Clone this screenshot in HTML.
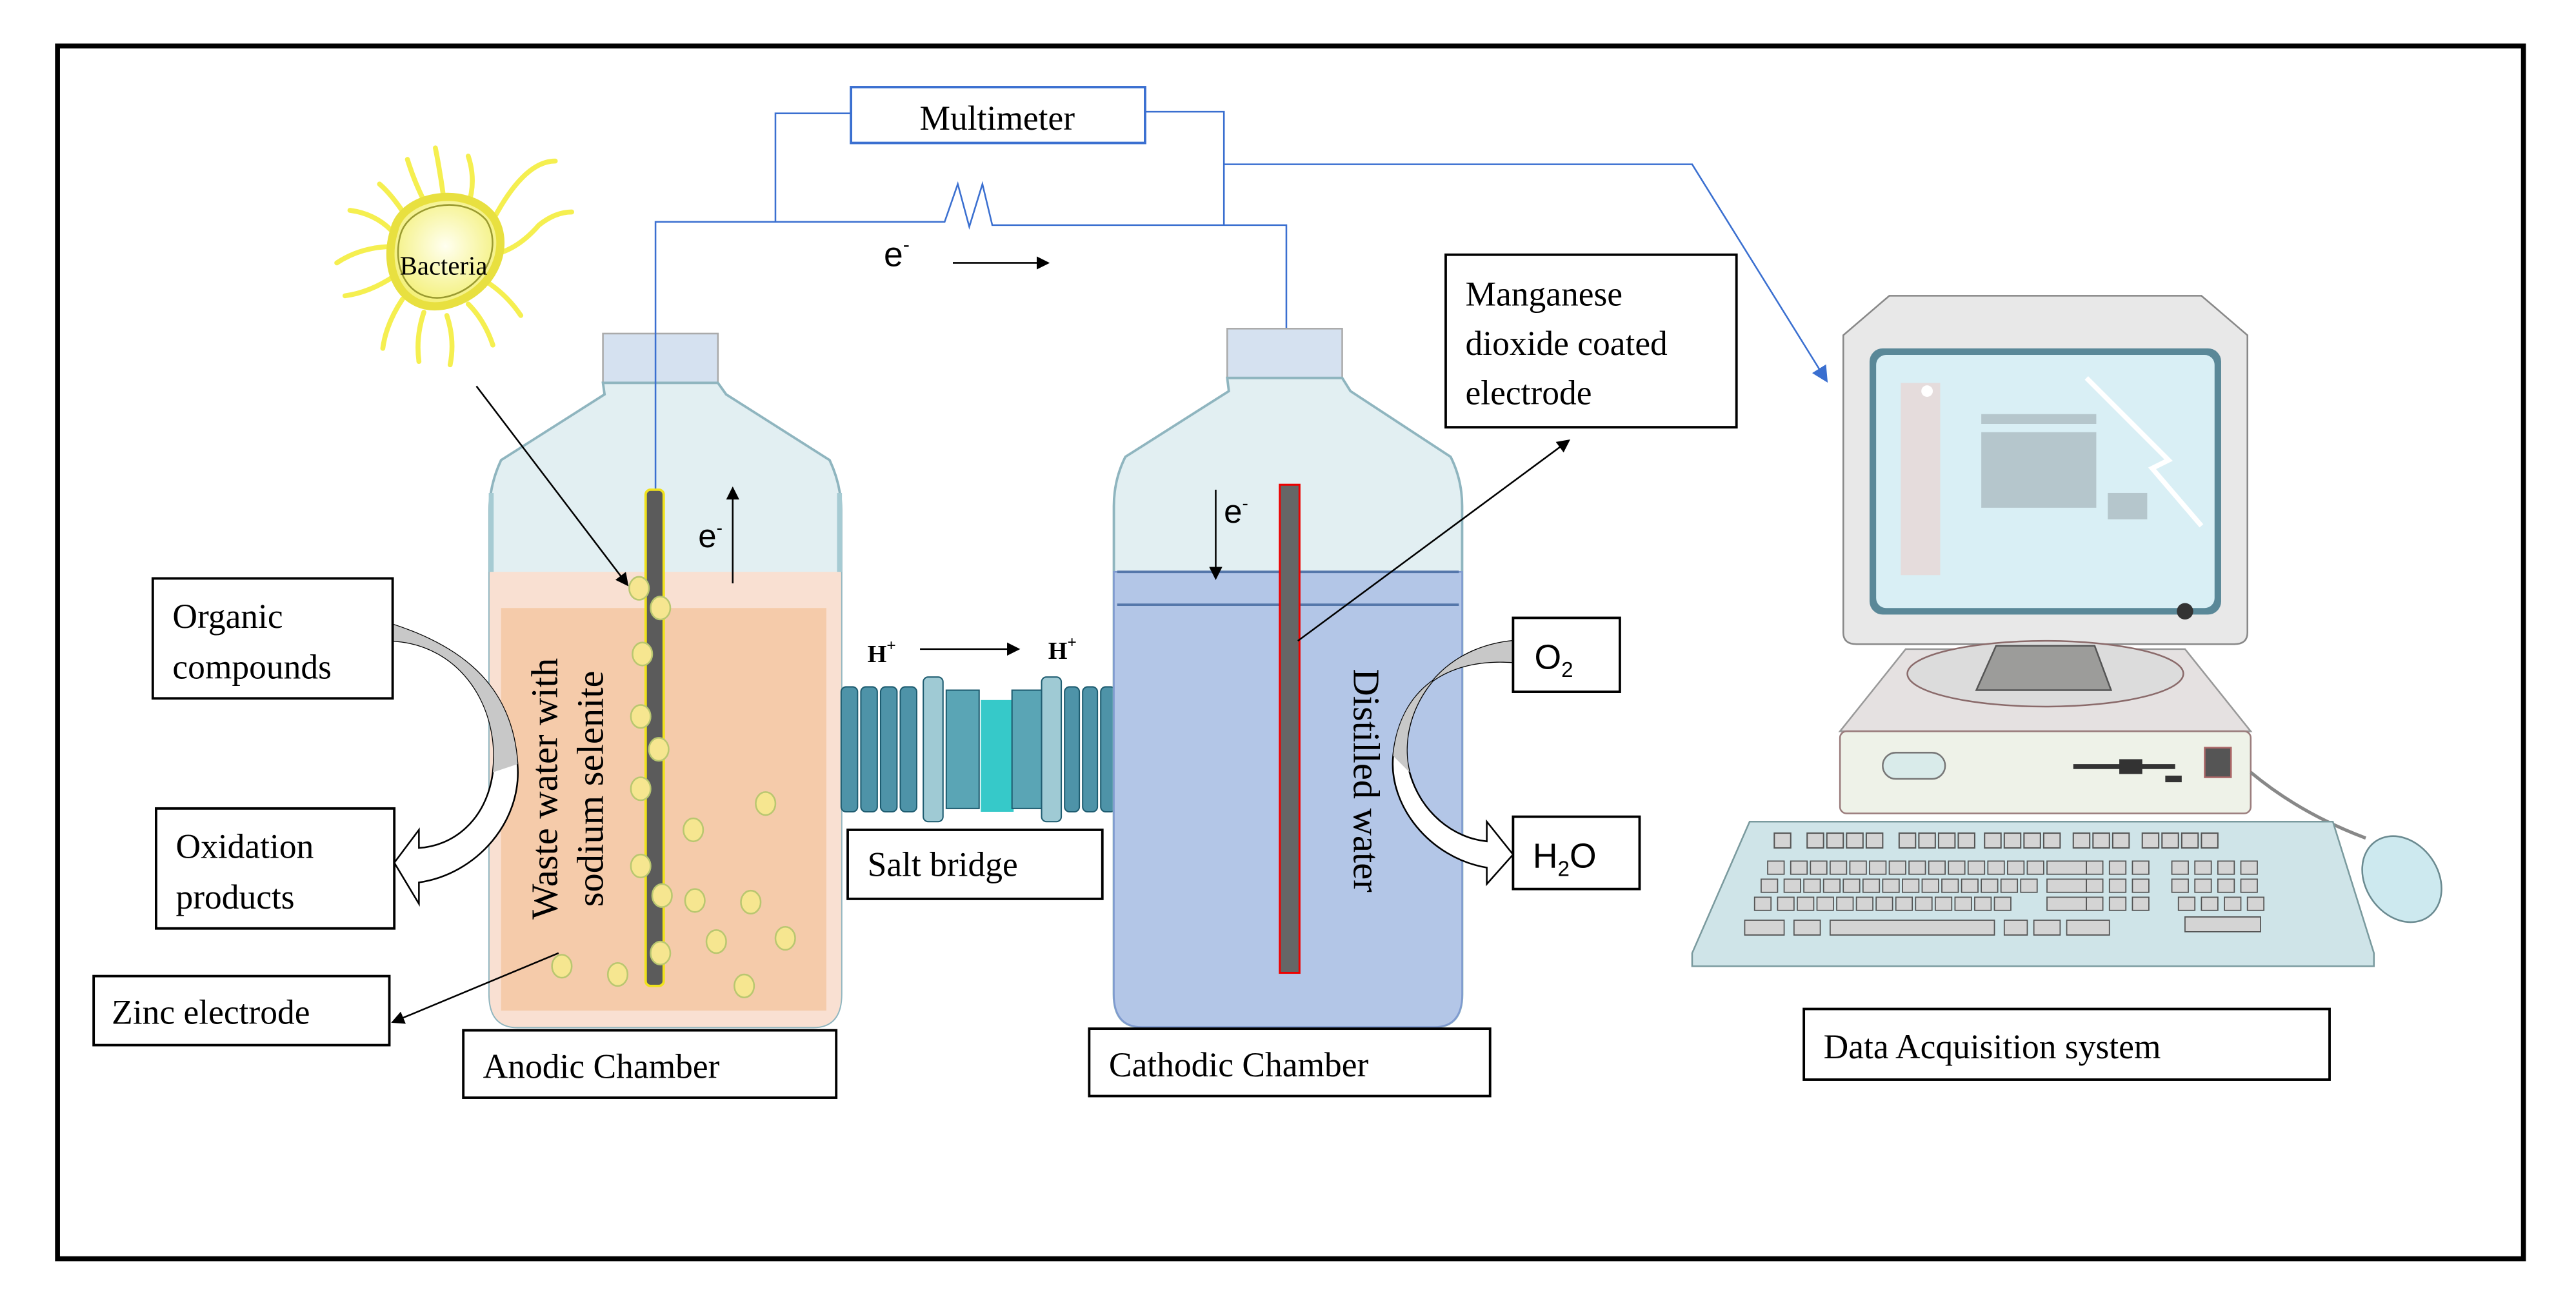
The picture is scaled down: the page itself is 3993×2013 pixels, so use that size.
<!DOCTYPE html>
<html><head><meta charset="utf-8"><style>
html,body{margin:0;padding:0;background:#fff;}
svg{display:block;}
.t{font-family:"Liberation Serif",serif;fill:#000;}
.s{font-family:"Liberation Sans",sans-serif;fill:#000;}
</style></head><body>
<svg width="3993" height="2013" viewBox="0 0 1568 790.5" preserveAspectRatio="none" xmlns="http://www.w3.org/2000/svg">
<defs>
<marker id="ab" markerWidth="8" markerHeight="8" refX="7" refY="4" orient="auto" markerUnits="userSpaceOnUse"><path d="M0,0 L8,4 L0,8 Z" fill="#000"/></marker>
<marker id="abl" markerWidth="10" markerHeight="10" refX="9" refY="5" orient="auto" markerUnits="userSpaceOnUse"><path d="M0,0 L10,5 L0,10 Z" fill="#3a6fd0"/></marker>
<radialGradient id="bg" cx="0.5" cy="0.45" r="0.6"><stop offset="0" stop-color="#fffff0"/><stop offset="1" stop-color="#f2ee6a"/></radialGradient>
</defs>
<rect x="0" y="0" width="1568" height="790.5" fill="#fff"/>
<rect x="35" y="28" width="1501" height="738" fill="none" stroke="#000" stroke-width="3"/>

<!-- bacteria -->
<g stroke="#f5ef50" stroke-width="3" fill="none" stroke-linecap="round">
<path d="M238,140 q-10,-10 -25,-12"/><path d="M240,150 q-20,0 -35,10"/><path d="M240,168 q-15,10 -30,12"/><path d="M245,182 q-10,15 -12,30"/>
<path d="M258,190 q-5,15 -3,30"/><path d="M272,192 q5,15 2,30"/><path d="M285,185 q10,10 15,25"/><path d="M297,172 q12,8 20,20"/>
<path d="M300,155 q15,-3 28,-18 q10,-8 20,-8"/><path d="M298,138 q10,-20 20,-30 q10,-10 20,-10"/><path d="M285,125 q5,-15 0,-30"/>
<path d="M270,120 q-2,-15 -5,-30"/><path d="M258,122 q-6,-12 -10,-25"/><path d="M246,130 q-8,-12 -15,-18"/>
</g>
<path d="M240,140 C245,118 285,112 300,132 C312,150 300,180 270,186 C245,190 232,165 240,140 Z" fill="url(#bg)" stroke="#e8e040" stroke-width="5"/>
<path d="M244,142 C250,124 282,118 296,134 C306,150 296,176 270,181 C248,184 238,162 244,142 Z" fill="none" stroke="#9a9a30" stroke-width="1"/>
<text x="270" y="167" class="t" font-size="16" text-anchor="middle">Bacteria</text>

<!-- anodic bottle -->
<rect x="367" y="203" width="70" height="30" fill="#d5e1f0" stroke="#aaa"/>
<path d="M367,233 L437,233 L442,240 L505,280 Q512,295 512,310 L512,605 Q512,625 495,625 L315,625 Q298,625 298,605 L298,310 Q298,295 305,280 L368,240 Z" fill="#e2eff2" stroke="#8fb5bf" stroke-width="1.5"/>
<path d="M298,348 L512,348 L512,605 Q512,625 495,625 L315,625 Q298,625 298,605 Z" fill="#f9e0d2"/>
<rect x="305" y="370" width="198" height="245" fill="#f5cbaa"/>
<path d="M299,300 L299,348 M511,300 L511,348" stroke="#a6cbd3" stroke-width="3"/>

<!-- circuit -->
<g stroke="#3a6fd0" stroke-width="1" fill="none">
<rect x="518" y="53" width="179" height="34" stroke-width="1.5"/>
<polyline points="518,69 472,69 472,135"/>
<polyline points="399,300 399,135 575,135 583,112 590,138 598,112 604,137 783,137 783,295"/>
<polyline points="697,68 745,68 745,137"/>
<polyline points="745,100 1030,100 1112,232" marker-end="url(#abl)"/>
</g>
<text x="607" y="79" class="t" font-size="21" text-anchor="middle">Multimeter</text>
<text x="538" y="162" class="s" font-size="21">e<tspan font-size="12" dy="-9">-</tspan></text>
<line x1="580" y1="160" x2="638" y2="160" stroke="#000" stroke-width="1" marker-end="url(#ab)"/>

<rect x="393" y="298" width="11" height="302" rx="3" fill="#5b5b5b" stroke="#f0e21c" stroke-width="1.5"/>
<g fill="#f6e690" stroke="#b9c770" stroke-width="1">
<ellipse cx="389" cy="358" rx="6" ry="7"/><ellipse cx="402" cy="370" rx="6" ry="7"/><ellipse cx="391" cy="398" rx="6" ry="7"/>
<ellipse cx="390" cy="436" rx="6" ry="7"/><ellipse cx="401" cy="456" rx="6" ry="7"/><ellipse cx="390" cy="480" rx="6" ry="7"/>
<ellipse cx="466" cy="489" rx="6" ry="7"/><ellipse cx="422" cy="505" rx="6" ry="7"/><ellipse cx="390" cy="527" rx="6" ry="7"/>
<ellipse cx="403" cy="545" rx="6" ry="7"/><ellipse cx="423" cy="548" rx="6" ry="7"/><ellipse cx="457" cy="549" rx="6" ry="7"/>
<ellipse cx="436" cy="573" rx="6" ry="7"/><ellipse cx="478" cy="571" rx="6" ry="7"/><ellipse cx="402" cy="580" rx="6" ry="7"/>
<ellipse cx="342" cy="588" rx="6" ry="7"/><ellipse cx="376" cy="593" rx="6" ry="7"/><ellipse cx="453" cy="600" rx="6" ry="7"/>
</g>
<line x1="290" y1="235" x2="382" y2="356" stroke="#000" stroke-width="1" marker-end="url(#ab)"/>
<text x="425" y="333" class="s" font-size="20">e<tspan font-size="11" dy="-8">-</tspan></text>
<line x1="446" y1="355" x2="446" y2="297" stroke="#000" stroke-width="1" marker-end="url(#ab)"/>
<text transform="translate(339,480) rotate(-90)" class="t" font-size="23" text-anchor="middle">Waste water with</text>
<text transform="translate(367,480) rotate(-90)" class="t" font-size="23" text-anchor="middle">sodium selenite</text>
<line x1="340" y1="580" x2="239" y2="622" stroke="#000" stroke-width="1" marker-end="url(#ab)"/>

<!-- salt bridge -->
<rect x="597" y="426" width="20" height="68" fill="#36c9c9"/>
<g fill="#4e93a8" stroke="#1e5c70" stroke-width="0.8">
<rect x="512" y="418" width="10" height="76" rx="3"/><rect x="524" y="418" width="10" height="76" rx="3"/><rect x="536" y="418" width="10" height="76" rx="3"/><rect x="548" y="418" width="10" height="76" rx="3"/>
<rect x="562" y="412" width="12" height="88" rx="3" fill="#9fcad4"/><rect x="576" y="420" width="20" height="72" fill="#5aa5b5"/>
<rect x="616" y="420" width="20" height="72" fill="#5aa5b5"/><rect x="634" y="412" width="12" height="88" rx="3" fill="#9fcad4"/>
<rect x="648" y="418" width="9" height="76" rx="3"/><rect x="659" y="418" width="9" height="76" rx="3"/><rect x="670" y="418" width="9" height="76" rx="3"/>
</g>
<text x="528" y="403" class="t" font-size="15" font-weight="bold">H<tspan font-size="10" dy="-7">+</tspan></text>
<text x="638" y="401" class="t" font-size="15" font-weight="bold">H<tspan font-size="10" dy="-7">+</tspan></text>
<line x1="560" y1="395" x2="620" y2="395" stroke="#000" stroke-width="1" marker-end="url(#ab)"/>
<rect x="516" y="505" width="155" height="42" fill="#fff" stroke="#000" stroke-width="1.5"/>
<text x="528" y="533" class="t" font-size="21">Salt bridge</text>

<!-- cathodic bottle -->
<rect x="747" y="200" width="70" height="30" fill="#d5e1f0" stroke="#aaa"/>
<path d="M747,230 L817,230 L822,238 L883,278 Q890,292 890,308 L890,605 Q890,625 873,625 L695,625 Q678,625 678,605 L678,308 Q678,292 685,278 L748,238 Z" fill="#e2eff2" stroke="#8fb5bf" stroke-width="1.5"/>
<path d="M678,348 L890,348 L890,605 Q890,625 873,625 L695,625 Q678,625 678,605 Z" fill="#b3c6e7" stroke="#7f9ad0"/>
<line x1="680" y1="368" x2="888" y2="368" stroke="#5577aa" stroke-width="1.5"/>
<line x1="680" y1="348" x2="888" y2="348" stroke="#5577aa" stroke-width="1.5"/>
<rect x="779" y="295" width="12" height="297" fill="#666" stroke="#e00" stroke-width="1.2"/>
<text x="745" y="318" class="s" font-size="20">e<tspan font-size="11" dy="-8">-</tspan></text>
<line x1="740" y1="298" x2="740" y2="352" stroke="#000" stroke-width="1" marker-end="url(#ab)"/>
<text transform="translate(824,475) rotate(90)" class="t" font-size="23" text-anchor="middle">Distilled water</text>
<line x1="790" y1="390" x2="955" y2="268" stroke="#000" stroke-width="1" marker-end="url(#ab)"/>
<rect x="880" y="155" width="177" height="105" fill="#fff" stroke="#000" stroke-width="1.5"/>
<text x="892" y="186" class="t" font-size="21">Manganese</text>
<text x="892" y="216" class="t" font-size="21">dioxide coated</text>
<text x="892" y="246" class="t" font-size="21">electrode</text>

<!-- right curved arrow -->
<path d="M921,390 C870,395 850,440 858,470 C865,495 885,510 905,512 L905,500 L921,520 L905,538 L905,528 C870,522 845,490 848,460 C852,420 880,400 921,403 Z" fill="#fff" stroke="#000"/>
<path d="M921,390 C870,395 850,440 858,470 L848,460 C852,420 880,400 921,403 Z" fill="#c8c8c8"/>
<rect x="921" y="376" width="65" height="45" fill="#fff" stroke="#000" stroke-width="1.5"/>
<text x="934" y="407" class="s" font-size="21">O<tspan font-size="13" dy="5">2</tspan></text>
<rect x="921" y="497" width="77" height="44" fill="#fff" stroke="#000" stroke-width="1.5"/>
<text x="933" y="528" class="s" font-size="21">H<tspan font-size="13" dy="5">2</tspan><tspan dy="-5">O</tspan></text>

<!-- left curved arrow -->
<path d="M239,390 C280,392 305,430 300,470 C296,500 275,515 255,516 L255,505 L240,525 L255,550 L255,537 C290,532 318,500 315,465 C312,420 285,395 239,380 Z" fill="#fff" stroke="#000"/>
<path d="M239,390 C280,392 305,430 300,470 L315,465 C312,420 285,395 239,380 Z" fill="#c8c8c8"/>
<rect x="93" y="352" width="146" height="73" fill="#fff" stroke="#000" stroke-width="1.5"/>
<text x="105" y="382" class="t" font-size="21">Organic</text>
<text x="105" y="413" class="t" font-size="21">compounds</text>
<rect x="95" y="492" width="145" height="73" fill="#fff" stroke="#000" stroke-width="1.5"/>
<text x="107" y="522" class="t" font-size="21">Oxidation</text>
<text x="107" y="553" class="t" font-size="21">products</text>
<rect x="57" y="594" width="180" height="42" fill="#fff" stroke="#000" stroke-width="1.5"/>
<text x="68" y="623" class="t" font-size="21">Zinc electrode</text>
<rect x="282" y="627" width="227" height="41" fill="#fff" stroke="#000" stroke-width="1.5"/>
<text x="294" y="656" class="t" font-size="21">Anodic  Chamber</text>
<rect x="663" y="626" width="244" height="41" fill="#fff" stroke="#000" stroke-width="1.5"/>
<text x="675" y="655" class="t" font-size="21">Cathodic Chamber</text>

<!-- computer -->
<path d="M1150,180 L1340,180 L1368,204 L1368,385 Q1368,392 1360,392 L1130,392 Q1122,392 1122,385 L1122,204 Z" fill="#e8e8e8" stroke="#888"/>
<rect x="1138" y="212" width="214" height="162" rx="8" fill="#5a8898"/>
<rect x="1142" y="216" width="206" height="154" rx="6" fill="#d9eff5"/>
<rect x="1157" y="233" width="24" height="117" fill="#e5dcdc"/>
<circle cx="1173" cy="238" r="3.5" fill="#fff"/>
<rect x="1206" y="252" width="70" height="6" fill="#b5c6cc"/>
<rect x="1206" y="263" width="70" height="46" fill="#b5c6cc"/>
<rect x="1283" y="300" width="24" height="16" fill="#b5c6cc"/>
<path d="M1270,230 L1320,280 L1310,285 L1340,320" stroke="#fff" stroke-width="3" fill="none"/>
<circle cx="1330" cy="372" r="5" fill="#333"/>
<path d="M1160,395 L1330,395 L1370,445 L1120,445 Z" fill="#e5e1e1" stroke="#999"/>
<ellipse cx="1245" cy="410" rx="84" ry="20" fill="#dcdcdc" stroke="#8a6a6a"/>
<path d="M1215,393 L1275,393 L1285,420 L1203,420 Z" fill="#9c9c9a" stroke="#555"/>
<rect x="1120" y="445" width="250" height="50" rx="4" fill="#eef2e8" stroke="#9a7c7c"/>
<rect x="1146" y="458" width="38" height="16" rx="8" fill="#d9ebea" stroke="#777"/>
<rect x="1262" y="465" width="62" height="3" fill="#333"/><rect x="1290" y="462" width="14" height="9" fill="#333"/><rect x="1318" y="472" width="10" height="4" fill="#333"/>
<rect x="1342" y="455" width="16" height="18" fill="#555" stroke="#a66"/>
<path d="M1370,470 Q1400,495 1440,510" stroke="#888" stroke-width="2" fill="none"/>
<ellipse cx="1462" cy="535" rx="22" ry="28" transform="rotate(-35 1462 535)" fill="#cde9ef" stroke="#6a8a90"/>
<path d="M1065,500 L1420,500 L1445,580 L1445,588 L1030,588 L1030,580 Z" fill="#cfe4e8" stroke="#7a9a9e"/>
<g fill="#d4d4d4" stroke="#555" stroke-width="0.8">
<rect x="1080" y="507" width="10" height="9"/>
<rect x="1100" y="507" width="10" height="9"/><rect x="1112" y="507" width="10" height="9"/><rect x="1124" y="507" width="10" height="9"/><rect x="1136" y="507" width="10" height="9"/>
<rect x="1156" y="507" width="10" height="9"/><rect x="1168" y="507" width="10" height="9"/><rect x="1180" y="507" width="10" height="9"/><rect x="1192" y="507" width="10" height="9"/>
<rect x="1208" y="507" width="10" height="9"/><rect x="1220" y="507" width="10" height="9"/><rect x="1232" y="507" width="10" height="9"/><rect x="1244" y="507" width="10" height="9"/>
<rect x="1262" y="507" width="10" height="9"/><rect x="1274" y="507" width="10" height="9"/><rect x="1286" y="507" width="10" height="9"/>
<rect x="1304" y="507" width="10" height="9"/><rect x="1316" y="507" width="10" height="9"/><rect x="1328" y="507" width="10" height="9"/><rect x="1340" y="507" width="10" height="9"/>
</g>
<g fill="#d4d4d4" stroke="#555" stroke-width="0.7">
<path d="M1076,524 h10 v8 h-10z M1090,524 h10 v8 h-10z M1102,524 h10 v8 h-10z M1114,524 h10 v8 h-10z M1126,524 h10 v8 h-10z M1138,524 h10 v8 h-10z M1150,524 h10 v8 h-10z M1162,524 h10 v8 h-10z M1174,524 h10 v8 h-10z M1186,524 h10 v8 h-10z M1198,524 h10 v8 h-10z M1210,524 h10 v8 h-10z M1222,524 h10 v8 h-10z M1234,524 h10 v8 h-10z M1246,524 h24 v8 h-24z"/>
<path d="M1072,535 h10 v8 h-10z M1086,535 h10 v8 h-10z M1098,535 h10 v8 h-10z M1110,535 h10 v8 h-10z M1122,535 h10 v8 h-10z M1134,535 h10 v8 h-10z M1146,535 h10 v8 h-10z M1158,535 h10 v8 h-10z M1170,535 h10 v8 h-10z M1182,535 h10 v8 h-10z M1194,535 h10 v8 h-10z M1206,535 h10 v8 h-10z M1218,535 h10 v8 h-10z M1230,535 h10 v8 h-10z M1246,535 h24 v8 h-24z"/>
<path d="M1068,546 h10 v8 h-10z M1082,546 h10 v8 h-10z M1094,546 h10 v8 h-10z M1106,546 h10 v8 h-10z M1118,546 h10 v8 h-10z M1130,546 h10 v8 h-10z M1142,546 h10 v8 h-10z M1154,546 h10 v8 h-10z M1166,546 h10 v8 h-10z M1178,546 h10 v8 h-10z M1190,546 h10 v8 h-10z M1202,546 h10 v8 h-10z M1214,546 h10 v8 h-10z M1246,546 h24 v8 h-24z"/>
<path d="M1270,524 h10 v8 h-10z M1284,524 h10 v8 h-10z M1298,524 h10 v8 h-10z M1270,535 h10 v8 h-10z M1284,535 h10 v8 h-10z M1298,535 h10 v8 h-10z M1270,546 h10 v8 h-10z M1284,546 h10 v8 h-10z M1298,546 h10 v8 h-10z"/>
<path d="M1322,524 h10 v8 h-10z M1336,524 h10 v8 h-10z M1350,524 h10 v8 h-10z M1364,524 h10 v8 h-10z M1322,535 h10 v8 h-10z M1336,535 h10 v8 h-10z M1350,535 h10 v8 h-10z M1364,535 h10 v8 h-10z M1326,546 h10 v8 h-10z M1340,546 h10 v8 h-10z M1354,546 h10 v8 h-10z M1368,546 h10 v8 h-10z"/>
<path d="M1062,560 h24 v9 h-24z M1092,560 h16 v9 h-16z M1114,560 h100 v9 h-100z M1220,560 h14 v9 h-14z M1238,560 h16 v9 h-16z M1258,560 h26 v9 h-26z M1330,558 h46 v9 h-46z"/>
</g>
<rect x="1098" y="614" width="320" height="43" fill="#fff" stroke="#000" stroke-width="1.5"/>
<text x="1110" y="644" class="t" font-size="21">Data Acquisition  system</text>
</svg>
</body></html>
